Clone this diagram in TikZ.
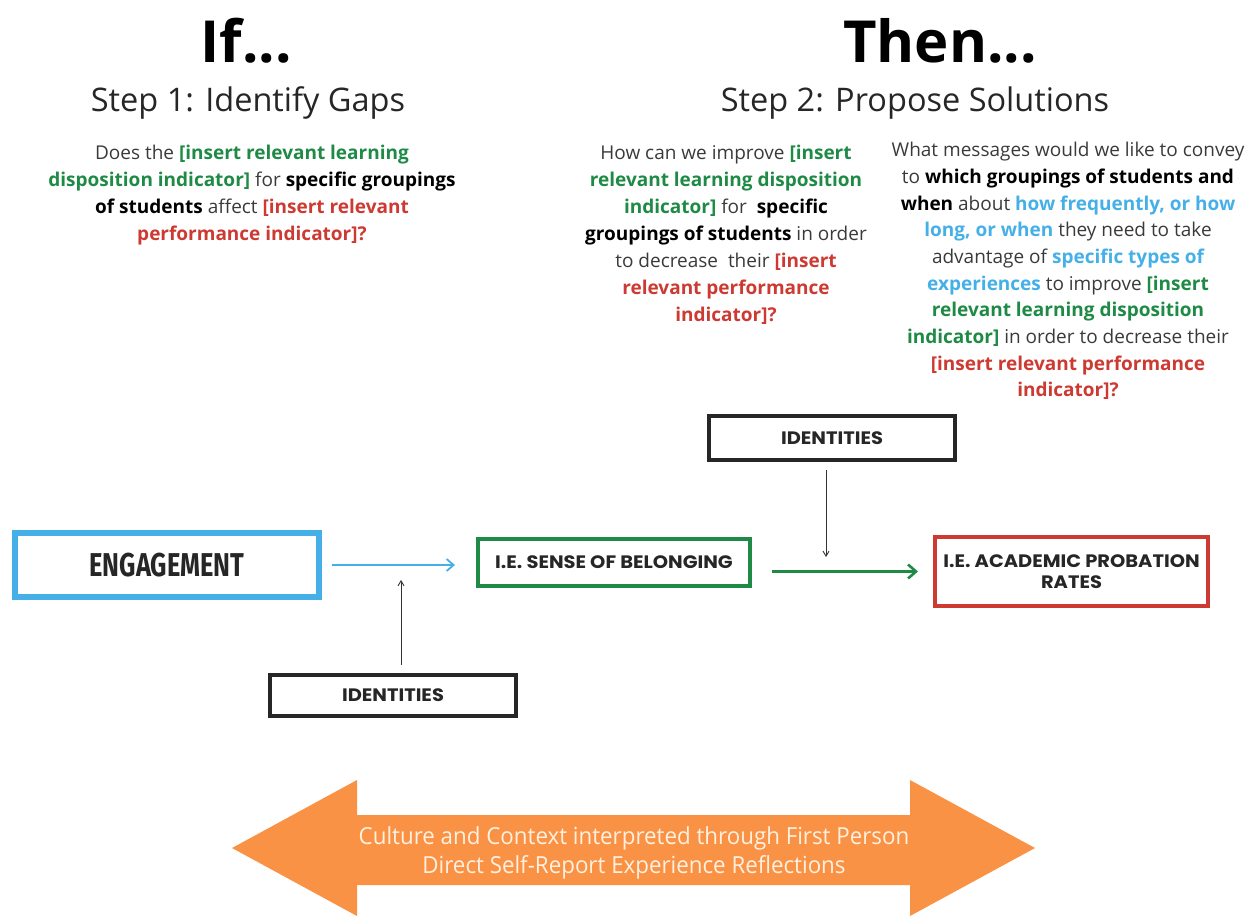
\documentclass[tikz,border=0pt]{standalone}
\usepackage{fontspec}
\setmainfont{Open Sans}
\newfontfamily\labelfont{Poppins}[FakeStretch=1.08]
\newfontfamily\condfont{Fira Sans}[FakeStretch=0.77]
\newfontfamily\ctxfont{Open Sans}[FakeStretch=0.95]
\usetikzlibrary{arrows.meta,positioning}

\definecolor{engblue}{HTML}{45B0E8}
\definecolor{belgreen}{HTML}{1E8A45}
\definecolor{probred}{HTML}{CC3A32}
\definecolor{ctxorange}{HTML}{FA9245}
\definecolor{bodygray}{HTML}{3A3A3A}
\definecolor{boxblack}{HTML}{262626}
\definecolor{ctxtext}{HTML}{FFF0E0}

\newcommand\ingreen[1]{{\bfseries\color{belgreen}#1}}
\newcommand\inred[1]{{\bfseries\color{probred}#1}}
\newcommand\inblue[1]{{\bfseries\color{engblue}#1}}
\newcommand\inblack[1]{{\bfseries\color{black}#1}}

\begin{document}
\begin{tikzpicture}[
    x=1pt, y=-1pt,
    every node/.style={inner sep=0pt},
    head/.style={font=\fontsize{58}{58}\selectfont\bfseries},
    stepline/.style={anchor=base, font=\fontsize{32.5}{32.5}\selectfont, text=black!85},
    body/.style={anchor=north, align=center, text=bodygray, font=\fontsize{19}{27}\selectfont},
    box/.style={draw, rectangle, line width=4pt, fill=white, align=center,
        font=\labelfont\bfseries\fontsize{18}{21}\selectfont, text=boxblack},
    thinarrow/.style={-{Straight Barb[length=5pt,width=6pt]}, line width=0.9pt, black!80}
]
\useasboundingbox (0,0) rectangle (1246,918);

% titles
\node[head] (ifhead) at (246,41) {If...};
\node[head] (thenhead) at (940,41) {Then...};
\node[stepline] (step1) at (248,111) {Step 1: Identify Gaps};
\node[stepline] (step2) at (915,111) {Step 2: Propose Solutions};

% questions
\node[body] (gapq) at (252,145) {Does the \ingreen{[insert relevant learning}\\
\ingreen{disposition indicator]} for \inblack{specific groupings}\\
\inblack{of students} affect \inred{[insert relevant}\\
\inred{performance indicator]?}};

\node[body] (howq) at (726,145) {How can we improve \ingreen{[insert}\\
\ingreen{relevant learning disposition}\\
\ingreen{indicator]} for \ \inblack{specific}\\
\inblack{groupings of students} in order\\
to decrease \ their \inred{[insert}\\
\inred{relevant performance}\\
\inred{indicator]?}};

\node[body, font=\fontsize{19}{26.7}\selectfont] (whatq) at (1068,142) {What messages would we like to convey\\
to \inblack{which groupings of students and}\\
\inblack{when} about \inblue{how frequently, or how}\\
\inblue{long, or when} they need to take\\
advantage of \inblue{specific types of}\\
\inblue{experiences} to improve \ingreen{[insert}\\
\ingreen{relevant learning disposition}\\
\ingreen{indicator]} in order to decrease their\\
\inred{[insert relevant performance}\\
\inred{indicator]?}};

% boxes
\node[box, draw=engblue, line width=6pt, minimum width=304pt, minimum height=64pt,
    font=\condfont\bfseries\fontsize{33}{33}\selectfont] (engage) at (167,565) {ENGAGEMENT};
\node[box, draw=belgreen, minimum width=272pt, minimum height=47pt] (belong) at (614,562.5) {I.E. SENSE OF BELONGING};
\node[box, draw=probred, minimum width=273pt, minimum height=69pt] (acad) at (1071.5,571.5) {I.E. ACADEMIC PROBATION\\RATES};
\node[box, draw=boxblack, minimum width=246pt, minimum height=44pt] (idtop) at (832,438) {IDENTITIES};
\node[box, draw=boxblack, minimum width=246pt, minimum height=41pt] (idlow) at (393,695.5) {IDENTITIES};

\coordinate (join1) at (401,565);
\coordinate (join2) at (826,572);

\draw[-{Straight Barb[length=7pt,width=12pt]}, engblue, line width=1.8pt, shorten <=10pt, shorten >=21pt]
    (engage.east) -- (engage.east -| belong.west);
\draw[-{Straight Barb[length=8pt,width=14pt]}, belgreen, line width=2.6pt, shorten <=20pt, shorten >=15pt]
    (belong.east |- acad.west) -- (acad.west);
\draw[thinarrow, shorten <=8pt, shorten >=15pt] (idlow.north -| join1) -- (join1);
\draw[thinarrow, shorten <=8pt, shorten >=15pt] (idtop.south -| join2) -- (join2);

% culture and context band
\fill[ctxorange] (232,848) -- (357,780) -- (357,815) -- (910,815) -- (910,780) -- (1035,848)
    -- (910,916) -- (910,885) -- (357,885) -- (357,916) -- cycle;
\node[align=center, text=ctxtext, font=\ctxfont\fontsize{23.5}{29.5}\selectfont] (context) at (634,853)
    {Culture and Context interpreted through First Person\\Direct Self-Report Experience Reflections};

\end{tikzpicture}
\end{document}
